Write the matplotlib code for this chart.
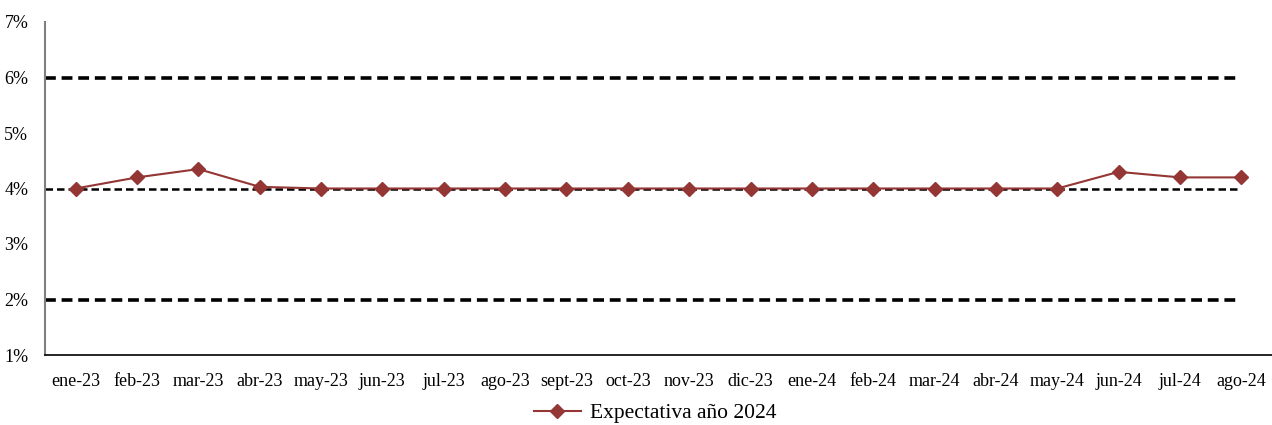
from matplotlib import pyplot as plt
from matplotlib.ticker import FuncFormatter

# meses y expectativa de inflación para 2024 (%)
months = ['ene-23', 'feb-23', 'mar-23', 'abr-23', 'may-23', 'jun-23', 'jul-23',
          'ago-23', 'sept-23', 'oct-23', 'nov-23', 'dic-23', 'ene-24', 'feb-24',
          'mar-24', 'abr-24', 'may-24', 'jun-24', 'jul-24', 'ago-24']
expectativa = [4.0, 4.2, 4.35, 4.03, 4.0, 4.0, 4.0, 4.0, 4.0, 4.0, 4.0, 4.0,
               4.0, 4.0, 4.0, 4.0, 4.0, 4.3, 4.2, 4.2]
meta = 4.0
rango = [2.0, 6.0]

plt.rcParams['font.family'] = ['Liberation Serif', 'DejaVu Serif']

fig = plt.figure(figsize=(12.72, 4.25), dpi=100)
ax = fig.add_axes([45 / 1272, 70 / 425, 1227 / 1272, 333 / 425])

x = list(range(len(months)))
for r in rango:
    ax.hlines(r, -0.5, len(months) - 1, colors='black', linestyles=(0, (3, 1.6)), lw=2.6)
ax.hlines(meta, -0.5, len(months) - 1, colors='black', linestyles=(0, (3, 1.6)), lw=1.8)
ax.plot(x, expectativa, color='#943634', marker='D', markersize=7, lw=1.5,
        label='Expectativa año 2024')

ax.set_xlim(-0.5, len(months) - 0.5)
ax.set_ylim(1, 7)
ax.set_xticks(x)
ax.set_xticklabels(months)
ax.set_yticks(range(1, 8))
ax.yaxis.set_major_formatter(FuncFormatter(lambda v, p: f'{v:.0f}%'))
ax.tick_params(length=0, labelsize=13)
ax.tick_params(axis='x', pad=13)
ax.tick_params(axis='y', pad=12)

ax.spines['top'].set_visible(False)
ax.spines['right'].set_visible(False)
ax.spines['left'].set_color('#7f7f7f')
ax.spines['left'].set_linewidth(1.5)
ax.spines['bottom'].set_color('black')
ax.spines['bottom'].set_linewidth(1.2)

fig.legend(loc='center', bbox_to_anchor=(655 / 1272, 1 - 413 / 425), frameon=False,
           fontsize=15.5, handlelength=2.2, handletextpad=0.4)

fig.savefig('out.png', dpi=100)
